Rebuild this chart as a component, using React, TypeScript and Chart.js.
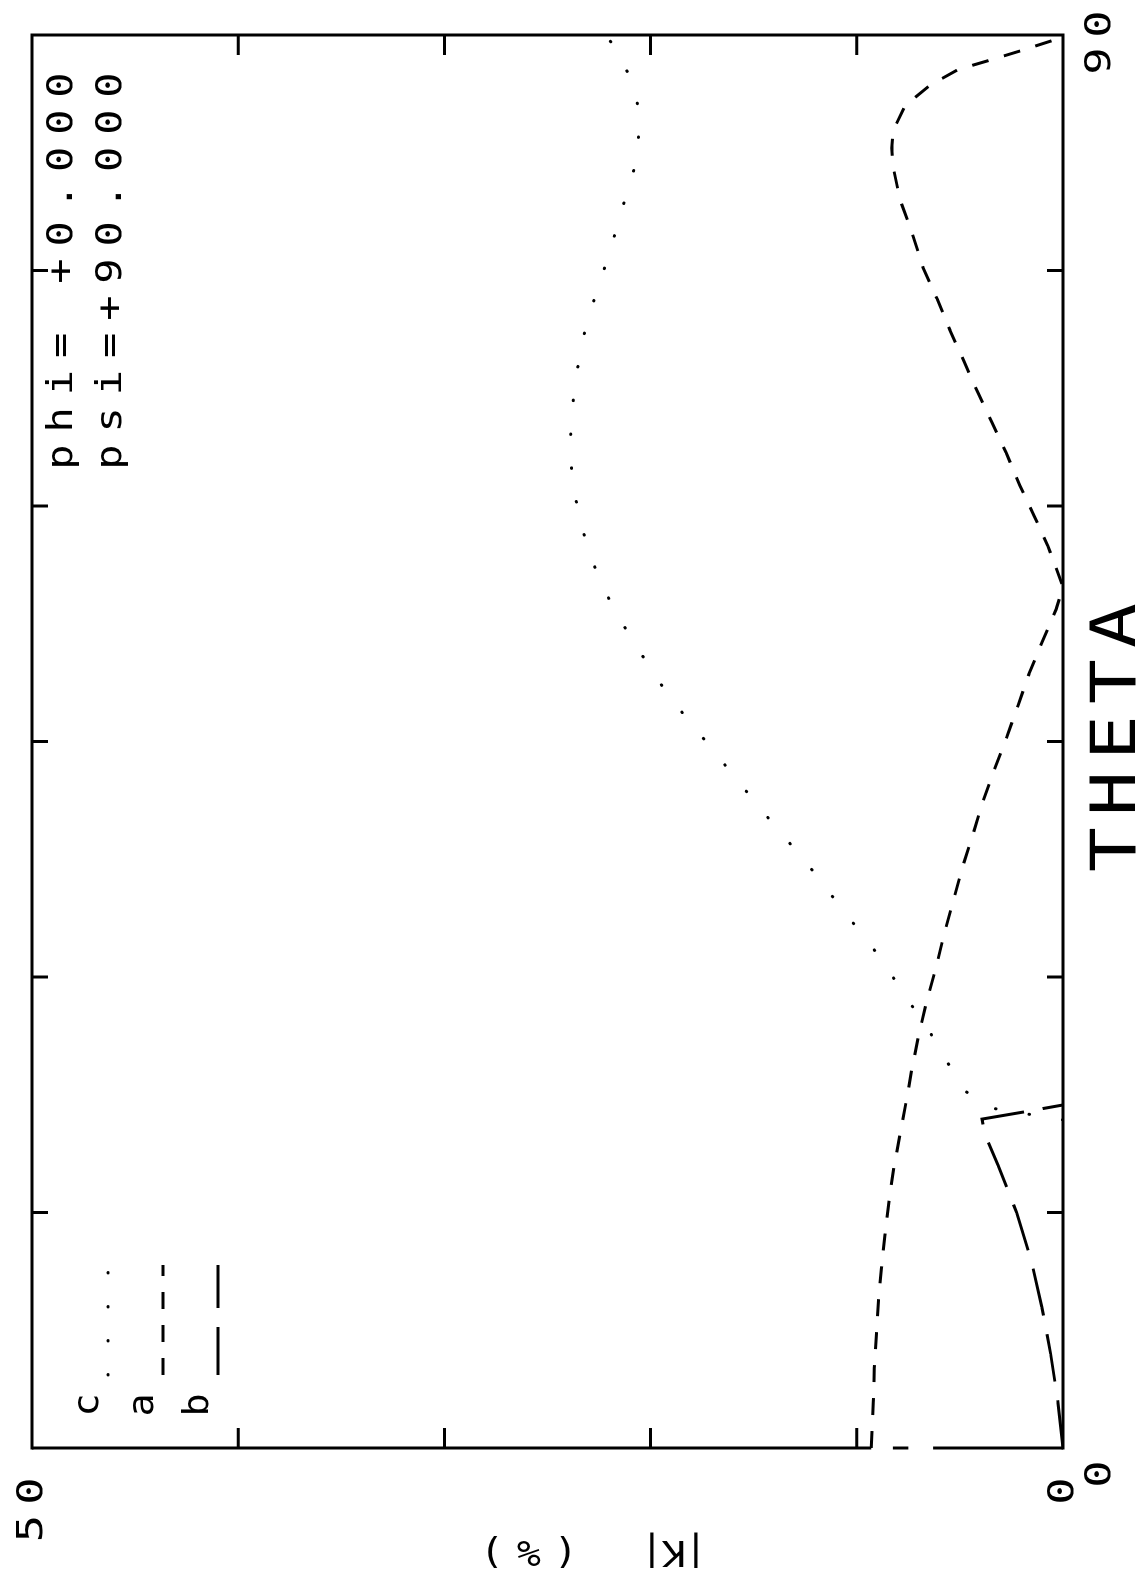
import React, { useEffect, useRef } from "react";
import { Chart, registerables } from "chart.js";

Chart.register(...registerables);

// ---- data (theta in degrees, |K| in %) ----
const thetaTickValues = [15, 30, 45, 60, 75];
const kTickValues = [10, 20, 30, 40];
const thetaTickLabels = [
  { v: 0, t: "0" },
  { v: 90, t: "90" },
];
const kTickLabels = [
  { v: 0, t: "0" },
  { v: 50, t: "50" },
];
const legendNames = ["c", "a", "b"];
const annotationLines = ["phi= +0.000", "psi=+90.000"];
const xTitle = "THETA";
const yTitleParts = ["|K|", "(%)"];

const cTheta = [20.9, 21.7, 22.9, 24.8, 26.7, 28.5, 30.3, 32.1, 33.8, 35.5, 37.3, 38.9, 40.6, 42.3, 44.0, 45.7, 47.3, 49.1, 51.0, 52.9, 54.8, 56.9, 59.0, 61.2, 63.4, 65.6, 67.8, 70.0, 72.1, 74.3, 76.5, 78.7, 80.8, 83.0, 85.2, 87.3, 89.2, 90];
const cK = [0, 3.7, 4.9, 5.7, 6.55, 7.5, 8.4, 9.35, 10.4, 11.4, 12.45, 13.5, 14.6, 15.65, 16.7, 17.75, 18.75, 19.75, 20.65, 21.55, 22.3, 22.95, 23.4, 23.75, 23.9, 23.85, 23.65, 23.4, 23.0, 22.45, 21.9, 21.45, 20.9, 20.6, 20.55, 21.0, 21.7, 22.2];

const aTheta = [0, 2.9, 5.1, 7.3, 9.4, 11.5, 13.6, 15.7, 17.9, 20.0, 22.1, 24.2, 26.4, 28.5, 30.6, 32.7, 35.0, 37.1, 39.1, 41.2, 43.3, 45.3, 47.3, 49.3, 51.3, 53.4, 54.85, 57.45, 59.4, 61.3, 63.4, 65.3, 67.2, 69.2, 71.2, 73.2, 75.2, 77.4, 79.5, 81.6, 82.8, 83.9, 85.5, 86.8, 87.8, 88.4, 89.0, 89.7, 90];
const aK = [9.3, 9.2, 9.15, 9.05, 8.95, 8.8, 8.63, 8.44, 8.2, 7.9, 7.6, 7.32, 6.98, 6.6, 6.16, 5.77, 5.29, 4.85, 4.36, 3.88, 3.3, 2.72, 2.18, 1.65, 1.02, 0.34, 0, 0.73, 1.41, 2.09, 2.76, 3.44, 4.12, 4.8, 5.48, 6.11, 6.79, 7.32, 7.9, 8.24, 8.3, 8.24, 7.66, 6.45, 5.09, 3.54, 2.04, 0.39, 0];

const bTheta = [0, 3, 6, 9, 12, 15, 18, 20, 20.95, 21.45, 21.85];
const bK = [0, 0.25, 0.6, 1.03, 1.55, 2.25, 3.15, 3.8, 3.93, 1.7, 0];

// gaps seen in the theta=0 frame edge (in |K| units)
const edgeSegments = [
  [50, 9.3],
  [8.25, 7.5],
  [6.3, 0],
];

// ---- styles ----
const W = 1571;
const H = 1148;
const FONT = '"DejaVu Sans Mono", "Liberation Mono", monospace';
const INK = "#000";
const dashC = [0.5, 33.5];
const dashA = [17, 16];
const dashB = [48, 19];

function toPts(xs: number[], ys: number[]) {
  return xs.map((x, i) => ({ x, y: ys[i] }));
}

function spaced(
  ctx: CanvasRenderingContext2D,
  text: string,
  firstCenter: number,
  baseline: number,
  adv: number,
  sx: number
) {
  for (let i = 0; i < text.length; i++) {
    const ch = text[i];
    if (ch === " ") continue;
    ctx.save();
    ctx.translate(firstCenter + i * adv, baseline);
    ctx.scale(sx, 1);
    ctx.fillText(ch, 0, 0);
    ctx.restore();
  }
}

const decorPlugin = {
  id: "decor",
  afterDatasetsDraw(chart: any) {
    const ctx: CanvasRenderingContext2D = chart.ctx;
    const { left, right, top, bottom } = chart.chartArea;
    const xs = chart.scales.x;
    const ys = chart.scales.y;
    ctx.save();
    ctx.strokeStyle = INK;
    ctx.fillStyle = INK;
    ctx.lineWidth = 3;
    ctx.lineCap = "square";
    ctx.setLineDash([]);

    // frame
    ctx.beginPath();
    ctx.moveTo(left, top);
    ctx.lineTo(right, top);
    ctx.lineTo(right, bottom);
    ctx.lineTo(left, bottom);
    ctx.stroke();
    ctx.lineCap = "butt";
    for (const [k1, k2] of edgeSegments) {
      ctx.beginPath();
      ctx.moveTo(left, ys.getPixelForValue(k1));
      ctx.lineTo(left, ys.getPixelForValue(k2));
      ctx.stroke();
    }

    // inward ticks
    for (const v of thetaTickValues) {
      const x = xs.getPixelForValue(v);
      ctx.beginPath();
      ctx.moveTo(x, top);
      ctx.lineTo(x, top + 16);
      ctx.moveTo(x, bottom);
      ctx.lineTo(x, bottom - 16);
      ctx.stroke();
    }
    for (const v of kTickValues) {
      const y = ys.getPixelForValue(v);
      ctx.beginPath();
      ctx.moveTo(left, y);
      ctx.lineTo(left + 20, y);
      ctx.moveTo(right, y);
      ctx.lineTo(right - 20, y);
      ctx.stroke();
    }

    ctx.textAlign = "center";
    ctx.textBaseline = "alphabetic";
    ctx.font = `35px ${FONT}`;

    // tick labels
    for (const { v, t } of thetaTickLabels) {
      spaced(ctx, t, xs.getPixelForValue(v) - 26, bottom + 47, 37, 1.3);
    }
    for (const { v, t } of kTickLabels) {
      const first = left - 43 - (t.length - 1) * 37.5;
      spaced(ctx, t, first, ys.getPixelForValue(v) + 10, 37.5, 1.3);
    }

    // annotation
    annotationLines.forEach((line, i) => {
      spaced(ctx, line, right - 422, top + 40 + i * 49, 37.2, 1.2);
    });

    // legend
    const samples = [dashC, dashA, dashB];
    legendNames.forEach((name, i) => {
      const base = top + 66 + i * 55;
      spaced(ctx, name, left + 43, base, 37, 1.1);
      ctx.save();
      ctx.setLineDash(samples[i]);
      ctx.lineCap = i === 0 ? "round" : "butt";
      ctx.beginPath();
      ctx.moveTo(left + 73, base + 10);
      ctx.lineTo(left + 183, base + 10);
      ctx.stroke();
      ctx.restore();
    });

    // x title
    ctx.font = `62px ${FONT}`;
    const cx = (left + right) / 2 + 4;
    spaced(ctx, xTitle, cx - 2 * 56, bottom + 72, 56, 1.2);

    // y title (rotated)
    ctx.font = `35px ${FONT}`;
    ctx.textBaseline = "middle";
    const yCenters = [top + 642, top + 497];
    const advs = [22, 37];
    yTitleParts.forEach((part, i) => {
      ctx.save();
      ctx.translate(left - 102, yCenters[i]);
      ctx.rotate(-Math.PI / 2);
      spaced(ctx, part, -((part.length - 1) * advs[i]) / 2, 0, advs[i], 1.15);
      ctx.restore();
    });

    ctx.restore();
  },
};

export default function App() {
  const ref = useRef<HTMLCanvasElement | null>(null);

  useEffect(() => {
    if (!ref.current) return;
    const chart = new Chart(ref.current, {
      type: "line",
      data: {
        datasets: [
          {
            label: "c",
            data: toPts(cTheta, cK),
            borderColor: INK,
            borderWidth: 3,
            borderDash: dashC,
            borderCapStyle: "round",
            pointRadius: 0,
            tension: 0,
            fill: false,
          },
          {
            label: "a",
            data: toPts(aTheta, aK),
            borderColor: INK,
            borderWidth: 3,
            borderDash: dashA,
            borderCapStyle: "butt",
            pointRadius: 0,
            tension: 0,
            fill: false,
          },
          {
            label: "b",
            data: toPts(bTheta, bK),
            borderColor: INK,
            borderWidth: 3,
            borderDash: dashB,
            borderCapStyle: "butt",
            pointRadius: 0,
            tension: 0,
            fill: false,
          },
        ],
      },
      options: {
        animation: false,
        responsive: false,
        devicePixelRatio: 1,
        layout: { padding: { left: 123, right: 35, top: 32, bottom: 85 } },
        plugins: {
          legend: { display: false },
          tooltip: { enabled: false },
          title: { display: false },
        },
        events: [],
        scales: {
          x: { type: "linear", min: 0, max: 90, display: false },
          y: { type: "linear", min: 0, max: 50, display: false },
        },
      },
      plugins: [decorPlugin],
    } as any);
    return () => chart.destroy();
  }, []);

  return (
    <div
      style={{
        position: "absolute",
        left: 0,
        top: 0,
        width: 1148,
        height: 1571,
        overflow: "hidden",
        background: "#fff",
      }}
    >
      <div
        style={{
          position: "absolute",
          left: 0,
          top: 0,
          width: W,
          height: H,
          transformOrigin: "0 0",
          transform: `translate(0px, ${W}px) rotate(-90deg)`,
        }}
      >
        <canvas ref={ref} width={W} height={H} style={{ width: W, height: H, display: "block" }} />
      </div>
    </div>
  );
}
